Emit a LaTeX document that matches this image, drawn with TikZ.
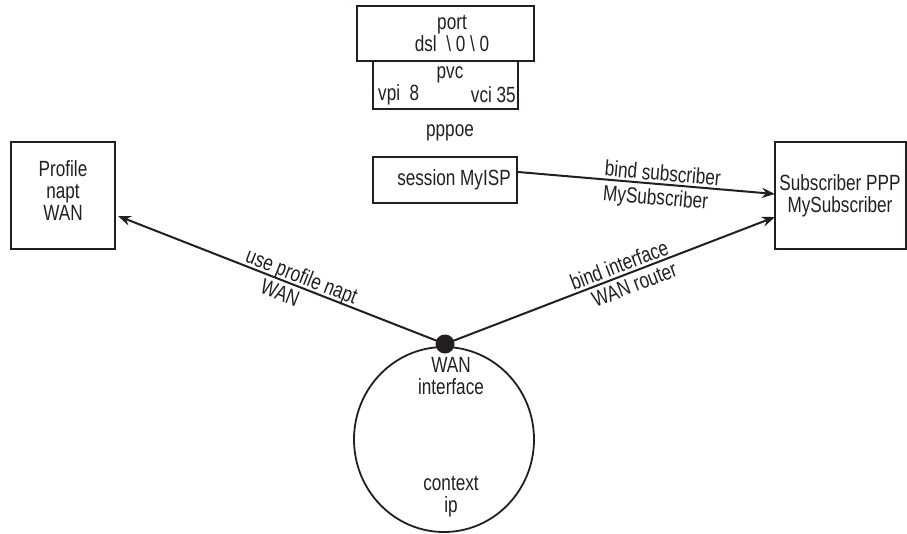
\documentclass[tikz,border=0pt]{standalone}
\usepackage{fontspec}
\setmainfont{Liberation Sans}[FakeStretch=0.78]
\usetikzlibrary{arrows.meta,shapes.geometric}
\definecolor{ink}{HTML}{231F20}
\begin{document}
\begin{tikzpicture}[x=1pt,y=-1pt,
  every node/.style={text=ink,font=\fontsize{22}{22}\selectfont,inner sep=0pt},
  box/.style={draw=ink,line width=2pt},
  conn/.style={draw=ink,line width=2pt},
  arr/.style={conn,-{Stealth[length=13pt,width=10pt]}},
  lblup/.style={sloped,above=2.5pt,text depth=0pt},
  lbldn/.style={sloped,below=4pt}]
\useasboundingbox (0,0) rectangle (907,533);
% boxes
\node[box,minimum width=177pt,minimum height=55pt] (port) at (445.5,33.5) {};
\node[box,minimum width=145pt,minimum height=48pt] (pvc) at (445.5,85) {};
\node[box,minimum width=144pt,minimum height=46pt] (session) at (445,180) {};
\node[box,minimum width=104pt,minimum height=107pt] (profile) at (63,195.5) {};
\node[box,minimum width=131pt,minimum height=107pt] (subscriber) at (840.5,195.5) {};
\node[draw=ink,line width=1.8pt,ellipse,minimum width=180pt,minimum height=185pt] (ctx) at (444,439.5) {};
\node[circle,fill=ink,minimum size=19pt] (dot) at (445,344) {};
% texts
\node[align=center] (porttxt) at (452,33) {port\\dsl \ \textbackslash\ 0 \textbackslash\ 0};
\node (pvctxt) at (450,75) {pvc};
\node[anchor=west] (vpitxt) at (378,95) {vpi\ \ 8};
\node[anchor=east] (vcitxt) at (516,95) {vci 35};
\node (pppoe) at (450,133) {pppoe};
\node (sesstxt) at (454,180) {session MyISP};
\node[align=center] (proftxt) at (63,191) {Profile\\napt\\WAN};
\node[align=center] (subtxt) at (840,196) {Subscriber PPP\\MySubscriber};
\node[align=center] (waniftxt) at (451,376) {WAN\\interface};
\node[align=center] (ctxtxt) at (451,497) {context\\ip};
% connectors
\coordinate (pt) at (118,216);
\coordinate (st) at (775,217);
\coordinate (ss) at (518,172);
\coordinate (se) at (775,194);
\draw[arr] (dot.center) -- node[lblup,pos=0.45] (l1a) {use profile napt}
                          node[lbldn,pos=0.49] (l1b) {WAN} (pt);
\draw[arr] (dot.center) -- node[lblup,pos=0.54] (l2a) {bind interface}
                          node[lbldn,pos=0.56] (l2b) {WAN router} (st);
\draw[arr] (ss) -- node[lblup,pos=0.56] (l3a) {bind subscriber}
                   node[lbldn,pos=0.54] (l3b) {MySubscriber} (se);
\end{tikzpicture}
\end{document}
